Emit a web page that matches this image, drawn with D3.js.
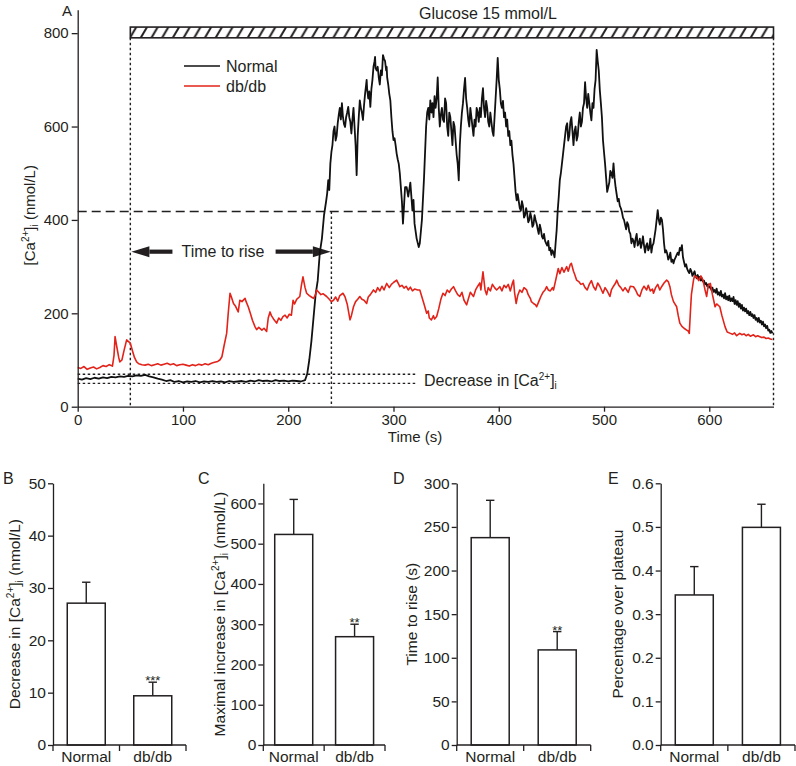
<!DOCTYPE html>
<html><head><meta charset="utf-8">
<script src="https://cdn.jsdelivr.net/npm/d3@7"></script>
<style>
body{margin:0;background:#fff}
svg{display:block}
text{font-family:"Liberation Sans",Arial,Helvetica,sans-serif;fill:#231f20}
</style>
</head><body>
<svg id="c" width="796" height="766"></svg>
<script>
// ---------------- DATA ----------------
// Panel A traces: [time (s), [Ca2+]i (nmol/L)]
const normalTrace = [[0,60],[4,58],[8,61],[12,59],[16,62],[20,60],[24,63],[28,61],[32,64],[36,63],[40,65],[44,64],[48,66],[52,65],[56,67],[60,66],[64,68],[68,65],[72,63],[76,60],[80,58],[84,55],[88,57],[92,53],[96,55],[100,52],[104,54],[108,53],[112,55],[116,52],[120,54],[124,53],[128,55],[132,53],[136,54],[140,52],[144,55],[148,53],[152,54],[156,55],[160,53],[164,56],[168,54],[172,57],[176,55],[180,56],[184,54],[188,57],[192,55],[196,56],[200,54],[204,56],[208,55],[212,54],[216,57],[218,70],[220,100],[222,140],[224,190],[226,240],[228,270],[230,330],[232,360],[234,410],[236,440],[237,457],[238,485],[239,464],
[240,520],[241,545],[242,560],[243,590],[244,600],[245,570],[246,580],[247,607],[248,625],[249,640],[250,615],[251,650],[252,620],[253,605],[254,599],[255,620],[256,630],[257,642],[258,620],[259,610],[260,585],[261,615],[262,640],[263,600],[264,560],[265,496],[266,580],[267,620],[268,656],[269,640],[270,630],[271,614],[272,645],[273,670],[274,690],[274.5,700],[275,680],[276,660],[277,675],[278,642],[279,680],[280,700],[281,728],[282,740],[282.5,749],[283,725],[284,720],[285,728],[286,705],[287,690],[288,720],[289,710],[290,753],[291,745],[292,740],[293,720],[293.5,728],[294,705],[295,690],[296,670],[297,656],[298,620],[299,590],[300,571],[301,575],[302,560],[303,542],[304,530],[305,520],[306,500],[308,440],[309,392],[310,430],[311,470],[312.5,470],[314,450],[316,480],[318,420],[319,443],[320,392],[322,360],[324,342],[325,350],[327,400],[329,490],
[331,600],[332,630],[333,640],[334,615],[335,656],[336,630],[337,650],[338,620],[339,665],[340,640],[341,660],[342,705],[343,640],[344,600],[345,625],[346,640],[347,615],[348,610],[349,660],[350,650],[351,600],[352,580],[353,630],[354,620],[355,590],[356,560],[357,610],[358,600],[359,570],[360,540],[361,520],[362,485],[363,560],[364,600],[365,630],[366,650],[367,680],[368,704],[369,660],[370,640],[371,615],[372,600],[373,640],[374,620],[375,600],[376,580],[377,615],[378,600],[379,640],[380,630],[381,610],[382,640],[383,620],[384,660],[385,682],[386,640],[387,620],[388,655],[389,640],[390,610],[391,600],[392,630],[393,610],[394,590],[395,580],[396,620],[397,660],[398,700],[399,747],[400,700],[401,680],[402,650],[403,640],[404,655],[405,620],[406,630],[407,600],[408,615],[409,580],[410,590],[411,560],[412,570],[413,540],[414,520],[415,490],[416,460],
[417,442],[418,455],[419,440],[420,425],[421,420],[422,440],[423,430],[424,405],[425,410],[426,425],[427,414],[428,395],[429,400],[430,415],[431,405],[432,385],[433,390],[434,410],[435,400],[436,392],[437,380],[438,370],[439,390],[440,380],[441,365],[442,360],[443,370],[444,355],[445,350],[446,345],[447,355],[448,335],[449,340],[450,325],[451,335],[452,330],[453,320],[454,350],[455,378],[456,420],[457,450],
[458,485],[459,500],[460,520],[461,540],[462,560],[463,580],[464,600],[465,607],[466,570],[467,580],[468,610],[469,620],[470,590],[471,560],[472,590],[473,600],[474,570],[475,580],[476,610],[477,630],[478,600],[479,610],[480,640],[481,650],[482,695],[483,660],[484,640],[485,670],[486,650],[487,630],[488,613],[489,650],[490,640],[491,680],[492,700],[493,764],[494,740],[495,720],[496,678],[497,650],[498,620],[499,571],[500,545],
[501,520],[502,490],[503,460],[504,470],[505,480],[506,505],[507,500],[508,490],[509,521],[510,490],[511,470],[512,455],[513,440],[514,445],[515,430],[516,425],[517,417],[518,405],[519,400],[520,390],[521,380],[522,395],[523,390],[524,375],[525,370],[526,350],[527,360],[528,355],[529,342],[530,360],[531,370],[532,345],[533,350],[534,360],[535,340],[536,350],[537,365],[538,345],[539,330],[540,345],[541,350],[542,335],[543,340],[544,360],[545,330],[546,345],[547,350],[548,365],[549,380],[550,400],[551,421],[552,400],[553,390],[554,405],[555,400],[556,380],[557,350],[558,330],[559,335],
[560,328],[561,315],[562,320],[563,330],[564,310],[565,315],[566,307],[567,315],[568,320],[569,325],[570,330],[571,325],[572,340],[573,335],[574,346],[575,320],[576,310],[577,300],[578,305],[579,295],[580,290],[581,286],[582,295],[583,290],[584,280],[585,285],[586,290],[587,280],[588,275],[589,282],[590,275],[591,278],[592,270],[593,275],[594,268],[595,270],[596,262],[597,265],[598,258],[599,262],[600,255],
[601,257],[602,250],[603,255],[604,246],[605,250],[606,244],[607,253],[608,240],[609,245],[610,238],[611,248],[612,236],[613,240],[614,232],[615,243],[616,230],[617,236],[618,228],[619,238],[620,226],[621,232],[622,226],[623,235],[624,220],[625,228],[626,218],[627,226],[628,214],[629,221],[630,210],[631,218],[632,206],[633,212],[634,204],[635,210],[636,200],[637,205],[638,196],[639,203],[640,194],[641,198],[642,190],[643,196],[644,186],[645,190],[646,182],[647,190],[648,180],[649,184],[650,176],[651,182],[652,172],[653,176],[654,168],[655,173],[656,163],[657,165],[658,158],[659,162],[660,157]];

const dbTrace = [[0,84],[3,82],[6,86],[9,80],[12,83],[15,85],[18,81],[21,84],[24,88],[27,86],[30,90],[33,87],[34.5,110],[35.5,150],[37,130],[39,105],[40,96],[42,100],[44,120],[46.5,143],[48,140],[50,136],[52,120],[54,105],[56,96],[58,92],[61,90],[64,89],[67,91],[70,88],[73,90],[76,92],[79,89],[82,91],[85,93],[88,90],[91,92],[94,88],[97,90],[100,91],[103,89],[106,87],[109,90],[112,88],[115,91],[118,89],[121,92],[124,90],[127,93],[130,95],[133,97],[135,100],[137,107],[139,130],[141.5,157],[143,200],[144.7,243],[146,235],[148,221],[150,215],[152.5,203],[154,228],[156,225],[159,232],[160,225],[162,214],[164,200],[166,185],[168.5,171],[170,165],[172,170],[175,164],[177,168],[179.5,161],[181,190],[182.7,203],[184,195],[186,188],[189,179],[191,190],[193,185],[195,193],[197,196],[199,190],[201,198],[203,196],[204.6,228],[206,220],[208,230],[211,236],[212.5,260],[214,278],[216,255],[217.5,243],[220,238],[222,235],[224,232],[226,240],[227,250],[229,245],[231,240],[233,242],[236.5,236],[239,230],[241,225],[243,228],[245,235],[247,226],[249,238],[252,243],[254,235],[256,220],[258.7,186],[260,195],[262,214],[264,225],[266,230],[268,236],[270,230],[272,228],[274.5,221],[276,235],[278,240],[281,250],[283,245],[285,255],[287,248],[289,258],[291,250],[293.5,264],[296,255],[298,262],[300,266],[303,271],[305,262],[306,257],[308,260],[310,254],[312,258],[314,250],[316,256],[318,248],[320,252],[323,250],[325,250],[327,235],[329,220],[331.5,200],[333,205],[334,190],[336,186],[338,195],[339,188],[341,193],[343,210],[345,230],[347,243],[349,238],[351,250],[353,245],[355,252],[357,257],[359,248],[361,240],[363,236],[365,245],[367,228],[369.5,218],[371,230],[373,245],[376,236],[378,250],[380,258],[382,265],[383,250],[385,289],[387,250],[388.5,240],[390,255],[392,248],[394,262],[396,255],[398,250],[401,257],[403,248],[405,260],[407,255],[409,262],[411,248],[413,265],[414,271],[415,245],[416.5,221],[418,238],[420,250],[422,245],[424,255],[426.5,250],[428,240],[430,232],[431,225],[433,221],[435,218],[436,214],[438,225],[440,236],[442,245],[444,250],[445.5,257],[447,250],[449,248],[451,255],[452,250],[454,270],[456.5,296],[458,285],[460,298],[462,288],[464.5,300],[466,290],[468,305],[469,307],[471,290],[472,284],[474,271],[476,268],[478,262],[480,264],[482,255],[484,250],[486,262],[488,270],[490,257],[492,250],[494,265],[496,258],[499,243],[501,255],[503,248],[505.6,236],[507,250],[509,258],[511,265],[512,271],[514,260],[516,255],[518,248],[520,255],[521.5,250],[523,245],[525,258],[528,257],[530,250],[532,240],[534,236],[536,250],[538,258],[540.5,250],[542,260],[544,248],[546,252],[547,243],[549,255],[551,262],[553,250],[555,258],[557,265],[559.5,271],[561,268],[562.6,257],[564,240],[566,225],[569,214],[570.5,195],[572,179],[574,172],[576,168],[578.5,164],[580,162],[581,157],[582,200],[583,240],[585,271],[586,280],[588,278],[590,270],[592,280],[594,271],[596,250],[597.5,236],[599,260],[601,264],[603,240],[605.5,214],[607,220],[610,214],[612,195],[615,171],[617,160],[620,157],[622,155],[624,158],[626,152],[629,157],[631,154],[633,156],[635,152],[637,155],[639,151],[642,154],[644,150],[646,152],[648,150],[650,148],[652,149],[654,146],[656,147],[658,145],[660,144]];

const seriesNames = ["Normal", "db/db"];
const xTicksA = [0, 100, 200, 300, 400, 500, 600];
const yTicksA = [0, 200, 400, 600, 800];
// Annotation values (panel A)
const glucoseStart = 50, glucoseEnd = 661;
const plateauLevel = 418, plateauLineEnd = 532;
const riseTime = 241;
const baselineLevels = [69.5, 50];
const arrowLevel = 332;

// Panels B-E
const groups = ["Normal", "db/db"];
const decreaseMean = [27.1, 9.4],  decreaseErr = [4.0, 2.6],  decreaseSig = ["", "***"];
const maxIncMean   = [523, 269],   maxIncErr   = [87, 31],    maxIncSig   = ["", "**"];
const riseMean     = [237.7, 109], riseErr     = [42.8, 21],  riseSig     = ["", "**"];
const plateauMean  = [0.344, 0.499], plateauErr = [0.065, 0.053], plateauSig = ["", ""];
const ticksB = [0, 10, 20, 30, 40, 50];
const ticksC = [0, 100, 200, 300, 400, 500, 600];
const ticksD = [0, 50, 100, 150, 200, 250, 300];
const ticksE = [0, 0.1, 0.2, 0.3, 0.4, 0.5, 0.6];

// ---------------- DRAW ----------------
const INK = "#231f20", RED = "#e2231a";
const FONT = '"Liberation Sans",Arial,Helvetica,sans-serif';
const svg = d3.select("#c");

function styleAxis(g, fs) {
  g.attr("font-family", FONT).attr("font-size", fs);
  g.selectAll("path,line").attr("stroke", INK).attr("stroke-width", 1.3);
  g.selectAll("text").attr("fill", INK);
}

// ----- Panel A -----
const xA = d3.scaleLinear().domain([0, 661]).range([77.7, 773.5]);
const yA = d3.scaleLinear().domain([0, 850]).range([406.7, 9.8]);

const defs = svg.append("defs");
const barTop = yA(813), barBot = yA(790);
const pat = defs.append("pattern").attr("id", "hatch")
  .attr("patternUnits", "userSpaceOnUse")
  .attr("x", 0).attr("y", barTop)
  .attr("width", 10.7).attr("height", barBot - barTop);
[-10.7, 0, 10.7].forEach(o => {
  pat.append("line").attr("x1", 1 + o).attr("y1", barBot - barTop + 1).attr("x2", 8.5 + o).attr("y2", -1)
    .attr("stroke", INK).attr("stroke-width", 2);
});

const gA = svg.append("g");
gA.append("rect")
  .attr("x", xA(glucoseStart)).attr("y", barTop)
  .attr("width", xA(glucoseEnd) - xA(glucoseStart)).attr("height", barBot - barTop)
  .attr("fill", "url(#hatch)").attr("stroke", INK).attr("stroke-width", 1.6);
gA.append("text").attr("x", 488).attr("y", 19).attr("text-anchor", "middle")
  .attr("font-size", 16).text("Glucose 15 mmol/L");

// dotted verticals
[[glucoseStart, 790], [glucoseEnd, 790], [riseTime, plateauLevel]].forEach(([t, top]) => {
  gA.append("line").attr("x1", xA(t)).attr("x2", xA(t)).attr("y1", yA(top)).attr("y2", yA(0))
    .attr("stroke", INK).attr("stroke-width", 1.4).attr("stroke-dasharray", "2.5,2.5");
});
// dashed plateau line
gA.append("line").attr("x1", xA(0)).attr("x2", xA(plateauLineEnd))
  .attr("y1", yA(plateauLevel)).attr("y2", yA(plateauLevel))
  .attr("stroke", INK).attr("stroke-width", 1.4).attr("stroke-dasharray", "9,5");
// dotted baselines
baselineLevels.forEach(v => {
  gA.append("line").attr("x1", xA(0)).attr("x2", xA(322.5))
    .attr("y1", yA(v)).attr("y2", yA(v))
    .attr("stroke", INK).attr("stroke-width", 1.4).attr("stroke-dasharray", "2.5,2.5");
});
const dec = gA.append("text").attr("x", xA(329)).attr("y", 386).attr("font-size", 16);
dec.append("tspan").text("Decrease in [Ca");
dec.append("tspan").attr("font-size", 10).attr("dy", -6).text("2+");
dec.append("tspan").attr("dy", 6).text("]");
dec.append("tspan").attr("font-size", 10).attr("dy", 3).text("i");

// Time to rise arrows
function arrow(x0, x1) {
  const dir = Math.sign(x1 - x0), hl = 18, hw = 5.5;
  const y = yA(arrowLevel);
  gA.append("line").attr("x1", x0).attr("x2", x1 - dir * hl).attr("y1", y).attr("y2", y)
    .attr("stroke", INK).attr("stroke-width", 4.2);
  gA.append("path").attr("d", `M${x1},${y} L${x1 - dir * hl},${y - hw} L${x1 - dir * hl},${y + hw} Z`)
    .attr("fill", INK);
}
arrow(xA(90), xA(glucoseStart + 1));
arrow(xA(188), xA(riseTime - 0.5));
gA.append("text").attr("x", xA(138)).attr("y", yA(arrowLevel) + 5.5).attr("text-anchor", "middle")
  .attr("font-size", 16).text("Time to rise");

// traces
const lineA = d3.line().x(d => xA(d[0])).y(d => yA(d[1]));
gA.append("path").datum(normalTrace).attr("d", lineA).attr("fill", "none")
  .attr("stroke", "#111").attr("stroke-width", 1.8).attr("stroke-linejoin", "round");
gA.append("path").datum(dbTrace).attr("d", lineA).attr("fill", "none")
  .attr("stroke", RED).attr("stroke-width", 1.6).attr("stroke-linejoin", "round");

// legend
[["#111", 66], [RED, 86]].forEach(([c, y], i) => {
  gA.append("line").attr("x1", 184).attr("x2", 220).attr("y1", y).attr("y2", y)
    .attr("stroke", c).attr("stroke-width", 1.6);
  gA.append("text").attr("x", 226).attr("y", y + 5.5).attr("font-size", 16).text(seriesNames[i]);
});

// axes A
const axYA = gA.append("g").attr("transform", `translate(${xA(0)},0)`)
  .call(d3.axisLeft(yA).tickValues(yTicksA).tickSize(6).tickSizeOuter(0).tickPadding(3));
styleAxis(axYA, 15);
const axXA = gA.append("g").attr("transform", `translate(0,${yA(0)})`)
  .call(d3.axisBottom(xA).tickValues(xTicksA).tickSize(5).tickSizeOuter(0).tickPadding(3));
styleAxis(axXA, 15);
gA.append("text").attr("x", 415).attr("y", 442).attr("text-anchor", "middle").attr("font-size", 15).text("Time (s)");
const ylA = gA.append("text").attr("transform", `translate(35,${yA(410)}) rotate(-90)`)
  .attr("text-anchor", "middle").attr("font-size", 15);
ylA.append("tspan").text("[Ca");
ylA.append("tspan").attr("font-size", 10).attr("dy", -6).text("2+");
ylA.append("tspan").attr("dy", 6).text("]");
ylA.append("tspan").attr("font-size", 10).attr("dy", 3).text("i");
ylA.append("tspan").attr("dy", -3).text(" (nmol/L)");
gA.append("text").attr("x", 62).attr("y", 16).attr("font-size", 15).text("A");

// ----- Bar panels -----
const yTop = 483.3, yBase = 745;
function barPanel(cfg) {
  const g = svg.append("g");
  const y = d3.scaleLinear().domain(cfg.domain).range([yBase, yTop]);
  const x = d3.scaleBand().domain(groups).range([cfg.x0, cfg.x1]).padding(0);
  const bw = 38;
  cfg.mean.forEach((m, i) => {
    const cx = x(groups[i]) + x.bandwidth() / 2;
    const top = y(m + cfg.err[i]);
    g.append("line").attr("x1", cx).attr("x2", cx).attr("y1", y(m)).attr("y2", top)
      .attr("stroke", INK).attr("stroke-width", 1.4);
    g.append("line").attr("x1", cx - 4.2).attr("x2", cx + 4.2).attr("y1", top).attr("y2", top)
      .attr("stroke", INK).attr("stroke-width", 1.4);
    g.append("rect").attr("x", cx - bw / 2).attr("y", y(m)).attr("width", bw).attr("height", y(0) - y(m))
      .attr("fill", "#fff").attr("stroke", INK).attr("stroke-width", 1.5);
    if (cfg.sig[i]) g.append("text").attr("x", cx).attr("y", top + 3).attr("text-anchor", "middle")
      .attr("font-size", 13).text(cfg.sig[i]);
    g.append("text").attr("x", cx).attr("y", 762).attr("text-anchor", "middle")
      .attr("font-size", 15.5).text(groups[i]);
  });
  const ay = g.append("g").attr("transform", `translate(${cfg.x0},0)`)
    .call(d3.axisLeft(y).tickValues(cfg.ticks).tickSize(5).tickSizeOuter(0).tickPadding(2)
      .tickFormat(cfg.fmt || d3.format("d")));
  styleAxis(ay, 15.5);
  g.append("line").attr("x1", cfg.x0).attr("x2", cfg.x1).attr("y1", yBase).attr("y2", yBase)
    .attr("stroke", INK).attr("stroke-width", 1.3);
  [cfg.x0, x(groups[1]), cfg.x1].forEach(px => {
    g.append("line").attr("x1", px).attr("x2", px).attr("y1", yBase).attr("y2", yBase + 6)
      .attr("stroke", INK).attr("stroke-width", 1.3);
  });
  const t = g.append("text").attr("transform", `translate(${cfg.labelX},${(yTop + yBase) / 2}) rotate(-90)`)
    .attr("text-anchor", "middle").attr("font-size", 15.5);
  cfg.label(t);
  g.append("text").attr("x", cfg.letterX).attr("y", 483.5).attr("font-size", 16).text(cfg.letter);
}
function caLabel(prefix) {
  return t => {
    t.append("tspan").text(prefix + "[Ca");
    t.append("tspan").attr("font-size", 10).attr("dy", -6).text("2+");
    t.append("tspan").attr("dy", 6).text("]");
    t.append("tspan").attr("font-size", 10).attr("dy", 3).text("i");
    t.append("tspan").attr("dy", -3).text(" (nmol/L)");
  };
}
barPanel({x0: 53, x1: 186, domain: [0, 50], ticks: ticksB, mean: decreaseMean, err: decreaseErr, sig: decreaseSig,
  labelX: 20, label: caLabel("Decrease in "), letter: "B", letterX: 3});
barPanel({x0: 263.3, x1: 385, domain: [0, 650], ticks: ticksC, mean: maxIncMean, err: maxIncErr, sig: maxIncSig,
  labelX: 225, label: caLabel("Maximal increase in "), letter: "C", letterX: 198});
barPanel({x0: 456.7, x1: 590.7, domain: [0, 300], ticks: ticksD, mean: riseMean, err: riseErr, sig: riseSig,
  labelX: 417, label: t => t.text("Time to rise (s)"), letter: "D", letterX: 393});
barPanel({x0: 660.7, x1: 795, domain: [0, 0.6], ticks: ticksE, mean: plateauMean, err: plateauErr, sig: plateauSig,
  labelX: 623, label: t => t.text("Percentage over plateau"), letter: "E", letterX: 608, fmt: d3.format(".1f")});
</script>
</body></html>
